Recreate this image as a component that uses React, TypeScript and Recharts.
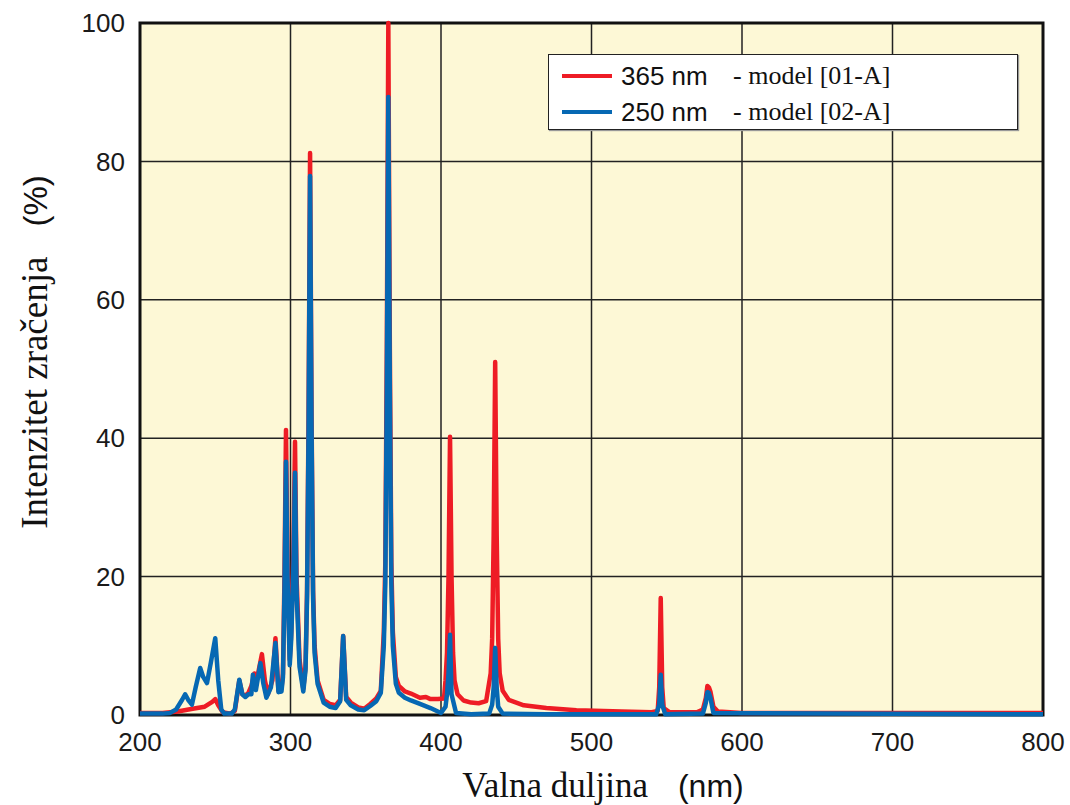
import React from 'react';
import { LineChart, Line, XAxis, YAxis, CartesianGrid, ReferenceArea, Label } from 'recharts';

// wavelengths (nm) and relative intensity (%)
const redNm = [200, 215, 225, 235, 243, 248, 250, 252, 255, 260, 263, 266, 268, 270, 272, 274, 276, 278, 281, 283, 285, 288, 290, 292, 294, 295, 296, 297, 298, 299.5, 300.5, 302, 303, 304, 306, 308.5, 310, 311, 312, 313, 314, 315, 316, 318, 322, 326, 330, 333, 335, 337, 340, 345, 349, 353, 357, 360, 362, 363, 364, 365, 366, 367, 368, 370, 372, 376, 380, 386, 390, 393, 398, 402, 403, 404, 405, 406, 407, 408, 409, 411, 415, 420, 425, 430, 433, 434, 435, 436, 437, 438, 439, 441, 445, 455, 470, 490, 520, 540, 544, 545, 546, 547, 548, 552, 570, 574, 576, 577, 578, 579, 581, 584, 600, 700, 800];
const redVal = [0.3, 0.3, 0.5, 0.9, 1.2, 1.9, 2.3, 1.4, 0.4, 0.2, 0.6, 5.0, 3.0, 2.8, 3.2, 4.2, 6.0, 5.5, 8.8, 5.0, 3.0, 5.0, 11.1, 3.5, 3.8, 6, 20, 41.2, 22, 8.0, 12, 24, 39.5, 20, 8, 3.8, 7, 18, 43, 81.2, 43, 18, 10, 5, 2.2, 1.6, 1.4, 2.2, 11.4, 2.6, 1.8, 1.1, 0.9, 1.6, 2.4, 3.5, 12, 22, 53, 100, 53, 22, 12, 5.5, 4.2, 3.4, 3.1, 2.5, 2.6, 2.3, 2.3, 2.4, 5, 9, 20, 40.2, 20, 9, 5, 3.0, 2.1, 1.8, 1.7, 2.0, 6, 11, 26, 51.0, 26, 11, 6, 3.5, 2.2, 1.4, 1.0, 0.7, 0.5, 0.4, 0.6, 4, 16.9, 4, 1.0, 0.4, 0.4, 0.8, 2.5, 4.2, 4.0, 3.4, 1.2, 0.5, 0.3, 0.3, 0.3];

const blueNm = [200, 215, 220, 224, 228, 230, 232, 234.5, 237, 240, 242, 244.5, 247, 250, 252, 254, 256, 261, 263, 266, 268, 270, 272, 274, 275, 277, 280, 282, 284, 287, 290, 292, 294, 295, 296, 297, 298, 299.5, 300.5, 302, 303, 304, 306, 308.5, 310, 311, 312, 313, 314, 315, 316, 318, 322, 326, 330, 333, 335, 337, 340, 345, 349, 353, 357, 360, 362, 363, 364, 365, 366, 367, 368, 370, 372, 376, 380, 386, 393, 400, 403, 404, 405, 406, 407, 410, 420, 432, 434, 435, 436, 437, 438, 441, 470, 543, 545, 546, 547, 549, 574, 576, 577, 578, 579, 581, 800];
const blueVal = [0.2, 0.2, 0.3, 0.8, 2.2, 3.0, 2.2, 1.5, 4.0, 6.8, 5.5, 4.6, 7.5, 11.1, 5, 0.8, 0.2, 0.2, 0.8, 5.1, 3.0, 2.6, 3.0, 3.0, 5.8, 3.6, 7.5, 4.5, 2.5, 4.0, 10.4, 3.3, 3.4, 5.5, 18, 36.6, 20, 7.2, 11, 22, 35.0, 18, 7, 3.4, 6.5, 17, 41, 77.9, 41, 17, 9, 4.5, 1.8, 1.2, 1.0, 2, 11.4, 2.2, 1.4, 0.8, 0.7, 1.3, 2.0, 3.2, 10, 19, 47, 89.3, 47, 19, 10, 4.5, 3.2, 2.5, 2.1, 1.6, 1.0, 0.3, 1.2, 3, 6, 11.6, 3, 0.3, 0.1, 0.2, 1.5, 4, 9.7, 4, 1.2, 0.2, 0.1, 0.1, 1.5, 5.8, 1.5, 0.1, 0.2, 1.8, 3.3, 3.2, 2.5, 0.3, 0.1];

const xTicks = [200, 300, 400, 500, 600, 700, 800];
const yTicks = [0, 20, 40, 60, 80, 100];

const RED = '#ee1c25';
const BLUE = '#0668b3';

const redData = redNm.map((nm, i) => ({ nm, v: redVal[i] }));
const blueData = blueNm.map((nm, i) => ({ nm, v: blueVal[i] }));

const sans = '"Liberation Sans", Arial, sans-serif';
const serif = '"Liberation Serif", "Times New Roman", serif';
const tickStyle = { fontFamily: sans, fontSize: 26, fill: '#1a1a1a' };

function LegendRow({ color, nm, model }: { color: string; nm: string; model: string }) {
    return (
        <div style={{ display: 'flex', alignItems: 'center', height: 36 }}>
            <div style={{ width: 50, height: 4, background: color, marginLeft: 13, marginRight: 9 }} />
            <span style={{ fontFamily: sans, fontSize: 26, color: '#111', width: 112 }}>{nm}</span>
            <span style={{ fontFamily: serif, fontSize: 26, color: '#111' }}>{model}</span>
        </div>
    );
}

export default function App() {
    return (
        <div style={{ position: 'absolute', left: 0, top: 0, width: 1070, height: 805, background: '#fff' }}>
            <LineChart width={1070} height={805} margin={{ top: 23, right: 27, left: 80, bottom: 50 }}>
                <CartesianGrid stroke="#222" strokeWidth={1.5} fill="#fdf8d6" fillOpacity={1} />
                <XAxis
                    dataKey="nm"
                    type="number"
                    domain={[200, 800]}
                    ticks={xTicks}
                    allowDuplicatedCategory={false}
                    height={40}
                    tickLine={false}
                    tickSize={0}
                    tickMargin={18}
                    axisLine={false}
                    tick={tickStyle}
                >
                    <Label
                        content={() => (
                            <text x={603} y={797} textAnchor="middle" fill="#111">
                                <tspan fontFamily={serif} fontSize={35}>Valna duljina</tspan>
                                <tspan fontFamily={sans} fontSize={32} dx={30}>(nm)</tspan>
                            </text>
                        )}
                    />
                </XAxis>
                <YAxis
                    type="number"
                    domain={[0, 100]}
                    ticks={yTicks}
                    width={60}
                    tickLine={false}
                    tickSize={0}
                    tickMargin={15}
                    axisLine={false}
                    tick={tickStyle}
                >
                    <Label
                        content={() => (
                            <text x={47} y={352} textAnchor="middle" fill="#111" transform="rotate(-90 47 352)">
                                <tspan fontFamily={serif} fontSize={37}>Intenzitet zračenja</tspan>
                                <tspan fontFamily={sans} fontSize={33} dx={30}>(%)</tspan>
                            </text>
                        )}
                    />
                </YAxis>
                <ReferenceArea x1={200} x2={800} y1={0} y2={100} fill="none" stroke="#111" strokeWidth={3} ifOverflow="visible" />
                <Line data={redData} dataKey="v" type="linear" stroke={RED} strokeWidth={4.5} strokeLinejoin="round" dot={false} isAnimationActive={false} />
                <Line data={blueData} dataKey="v" type="linear" stroke={BLUE} strokeWidth={4.5} strokeLinejoin="round" dot={false} isAnimationActive={false} />
            </LineChart>
            <div
                style={{
                    position: 'absolute',
                    left: 548,
                    top: 54,
                    width: 470,
                    height: 76,
                    background: '#fff',
                    border: '1.5px solid #222',
                    boxShadow: '1px 1px 1px #999',
                    paddingTop: 3,
                    boxSizing: 'border-box',
                }}
            >
                <LegendRow color={RED} nm="365 nm" model="- model [01-A]" />
                <LegendRow color={BLUE} nm="250 nm" model="- model [02-A]" />
            </div>
        </div>
    );
}
